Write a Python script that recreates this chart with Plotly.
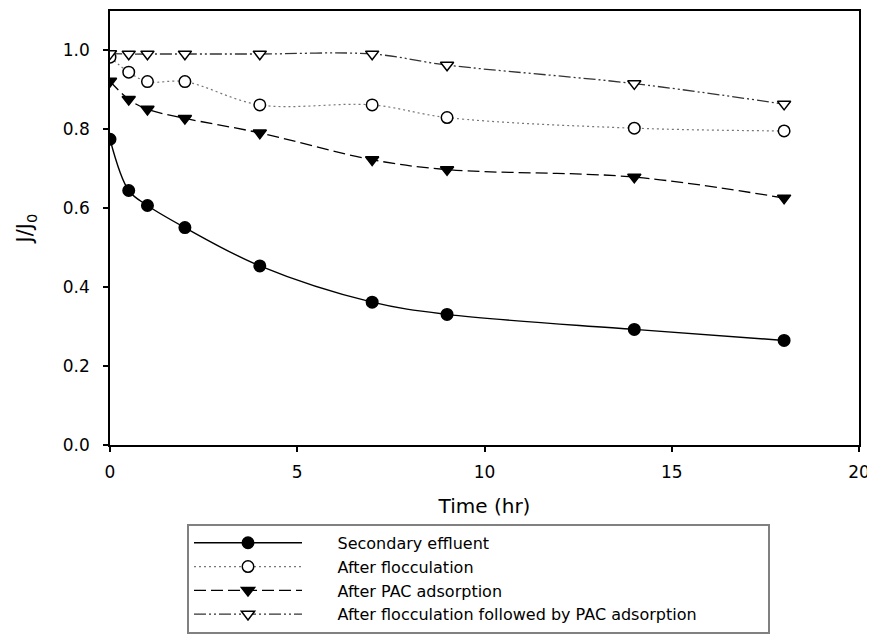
import plotly.graph_objects as go

time_hr = [0, 0.5, 1, 2, 4, 7, 9, 14, 18]

secondary_effluent = [0.775, 0.645, 0.607, 0.551, 0.454, 0.362, 0.331, 0.293, 0.265]
after_flocculation = [0.983, 0.945, 0.921, 0.921, 0.862, 0.862, 0.830, 0.803, 0.796]
after_pac = [0.922, 0.876, 0.851, 0.828, 0.791, 0.723, 0.698, 0.679, 0.626]
after_floc_pac = [0.992, 0.991, 0.991, 0.991, 0.991, 0.991, 0.963, 0.916, 0.864]

series_names = [
    "Secondary effluent",
    "After flocculation",
    "After PAC adsorption",
    "After flocculation followed by PAC adsorption",
]

x_ticks = [0, 5, 10, 15, 20]
y_ticks = [0.0, 0.2, 0.4, 0.6, 0.8, 1.0]

FONT = "DejaVu Sans"
NB = "\u00a0"
lead = NB * 6
tails = ["", "", "", NB * 13]

fig = go.Figure()

styles = [
    dict(values=secondary_effluent, dash="solid", lcolor="black", lw=1.4,
         symbol="circle", fill="black", size=11.5),
    dict(values=after_flocculation, dash="2px,3px", lcolor="#777777", lw=1.2,
         symbol="circle", fill="white", size=11.5),
    dict(values=after_pac, dash="12px,5px", lcolor="black", lw=1.3,
         symbol="triangle-down", fill="black", size=11.5),
    dict(values=after_floc_pac, dash="12px,3px,2px,3px,2px,3px", lcolor="#333333", lw=1.3,
         symbol="triangle-down", fill="white", size=11.5),
]

for name, tail, st in zip(series_names, tails, styles):
    fig.add_trace(go.Scatter(
        x=time_hr, y=st["values"], name=lead + name + tail,
        mode="lines+markers",
        line=dict(color=st["lcolor"], width=st["lw"], dash=st["dash"],
                  shape="spline", smoothing=1.0),
        marker=dict(symbol=st["symbol"], size=st["size"], color=st["fill"],
                    line=dict(color="black", width=1.5)),
    ))

# page body adds an 8px offset, so the figure is sized to the visible window
fig.update_layout(
    width=867, height=627, autosize=False,
    margin=dict(l=102, r=16, t=1, b=189),
    paper_bgcolor="white", plot_bgcolor="white",
    font=dict(family=FONT, color="black", size=17),
    showlegend=True,
    legend=dict(
        x=0.1028, y=-0.1817, xanchor="left", yanchor="top",
        bordercolor="#808080", borderwidth=2, bgcolor="white",
        font=dict(family=FONT, size=16, color="black"),
        itemwidth=108, tracegroupgap=0,
    ),
)

fig.update_xaxes(
    range=[0, 20], tickvals=x_ticks, ticktext=[str(v) for v in x_ticks],
    showgrid=False, zeroline=False,
    showline=True, linecolor="black", linewidth=1.5, mirror=True,
    ticks="outside", ticklen=5, tickwidth=1.5, tickcolor="black",
    ticklabelstandoff=6,
    tickfont=dict(family=FONT, size=17),
    title=dict(text="Time (hr)", font=dict(family=FONT, size=20), standoff=18),
)
fig.update_yaxes(
    range=[0, 1.1], tickvals=y_ticks, ticktext=[f"{v:.1f}" for v in y_ticks],
    showgrid=False, zeroline=False,
    showline=True, linecolor="black", linewidth=1.5, mirror=True,
    ticks="outside", ticklen=5, tickwidth=1.5, tickcolor="black",
    ticklabelstandoff=10,
    tickfont=dict(family=FONT, size=17),
    title=dict(text="J/J<sub>0</sub>", font=dict(family=FONT, size=21), standoff=24),
)

fig.write_html("out.html")
